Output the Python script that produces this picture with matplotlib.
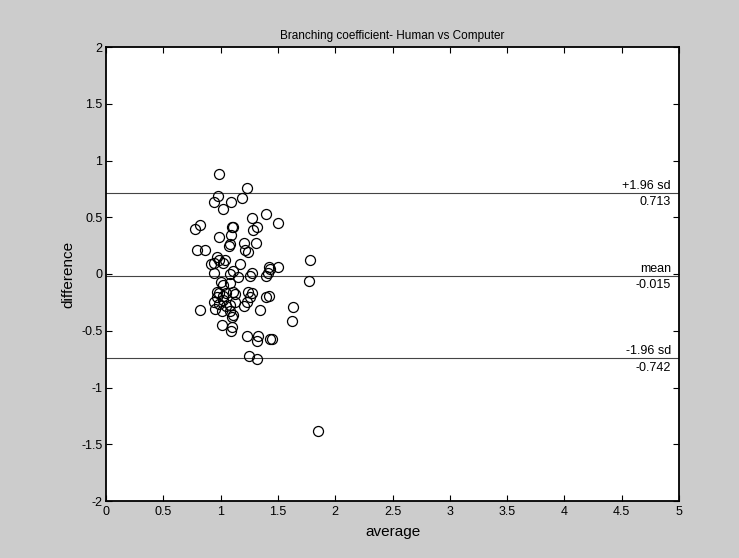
import matplotlib
matplotlib.use("Agg")
import matplotlib.pyplot as plt

avg = [
    0.99, 0.98, 1.23, 0.94, 1.02, 1.09, 1.19, 1.40, 1.27, 1.32, 1.28,
    0.78, 0.82, 1.10, 1.11, 0.99, 1.09,
    1.07, 1.08, 1.20, 1.31, 0.79, 0.86, 1.21, 1.24,
    0.94, 0.97, 0.99, 1.02, 0.92, 1.17, 1.04,
    0.94, 1.11, 1.08, 1.27, 1.26, 1.15, 1.00, 1.02, 1.08, 1.40,
    0.97, 0.99, 1.02, 0.97, 1.05, 1.11, 1.13, 1.24, 1.27, 1.26, 1.40,
    0.94, 0.99, 1.02, 1.05, 1.13, 1.08, 1.23, 1.20,
    0.82, 0.95, 1.01, 1.08, 1.11, 1.10, 1.34, 1.01, 1.10, 1.09,
    1.23, 1.33, 1.32, 1.43, 1.25, 1.32,
    1.42, 1.43, 1.41, 1.50, 1.78, 1.77, 1.42, 1.63, 1.62, 1.45, 1.85, 1.50,
]
diff = [
    0.88, 0.69, 0.76, 0.63, 0.57, 0.63, 0.67, 0.53, 0.49, 0.41, 0.39,
    0.40, 0.43, 0.41, 0.41, 0.33, 0.34,
    0.25, 0.26, 0.27, 0.27, 0.21, 0.21, 0.21, 0.19,
    0.10, 0.15, 0.12, 0.10, 0.09, 0.09, 0.12,
    0.01, 0.03, 0.00, 0.01, -0.02, -0.03, -0.07, -0.10, -0.08, -0.02,
    -0.16, -0.17, -0.19, -0.20, -0.17, -0.16, -0.18, -0.16, -0.17, -0.20, -0.20,
    -0.25, -0.26, -0.23, -0.28, -0.25, -0.27, -0.25, -0.28,
    -0.32, -0.31, -0.33, -0.33, -0.36, -0.38, -0.32, -0.45, -0.47, -0.50,
    -0.55, -0.55, -0.59, -0.57, -0.72, -0.75,
    0.06, 0.04, 0.01, 0.06, 0.12, -0.06, -0.19, -0.29, -0.41, -0.57, -1.38, 0.45,
]

ref_values = [0.713, -0.015, -0.742]
ref_labels = ["+1.96 sd", "mean", "-1.96 sd"]
ref_texts = ["0.713", "-0.015", "-0.742"]

xticks = [0, 0.5, 1, 1.5, 2, 2.5, 3, 3.5, 4, 4.5, 5]
xticklabels = ["0", "0.5", "1", "1.5", "2", "2.5", "3", "3.5", "4", "4.5", "5"]
yticks = [-2, -1.5, -1, -0.5, 0, 0.5, 1, 1.5, 2]
yticklabels = ["-2", "-1.5", "-1", "-0.5", "0", "0.5", "1", "1.5", "2"]

plt.rcParams['font.family'] = ['Liberation Sans', 'DejaVu Sans']

fig = plt.figure(figsize=(7.39, 5.58), dpi=100, facecolor='#cccccc')
ax = fig.add_axes([106/739, (558-501)/558, 573/739, 454/558])
ax.set_facecolor('white')

for v in ref_values:
    ax.axhline(v, color='#444444', lw=0.8, zorder=1)

ax.plot(avg, diff, linestyle='none', marker='o', markersize=7.2,
        markerfacecolor='none', markeredgecolor='black', markeredgewidth=0.9, zorder=3)

for v, lab, txt in zip(ref_values, ref_labels, ref_texts):
    ax.text(4.93, v + 0.01, lab, ha='right', va='bottom', fontsize=9)
    ax.text(4.93, v - 0.03, txt, ha='right', va='top', fontsize=9)

ax.set_xlim(0, 5)
ax.set_ylim(-2, 2)
ax.set_xticks(xticks)
ax.set_xticklabels(xticklabels)
ax.set_yticks(yticks)
ax.set_yticklabels(yticklabels)
ax.tick_params(direction='in', top=True, right=True, length=4, width=0.8,
               labelsize=9, colors='black')
ax.tick_params(axis='x', pad=3.5)
ax.tick_params(axis='y', pad=2.5)
for s in ax.spines.values():
    s.set_linewidth(1.3)
    s.set_color('black')

ax.set_xlabel('average', fontsize=11, labelpad=5)
ax.set_ylabel('difference', fontsize=11, labelpad=4)
ax.set_title('Branching coefficient- Human vs Computer', fontsize=8.5, pad=6)

fig.savefig('out.png', dpi=100, facecolor=fig.get_facecolor())
